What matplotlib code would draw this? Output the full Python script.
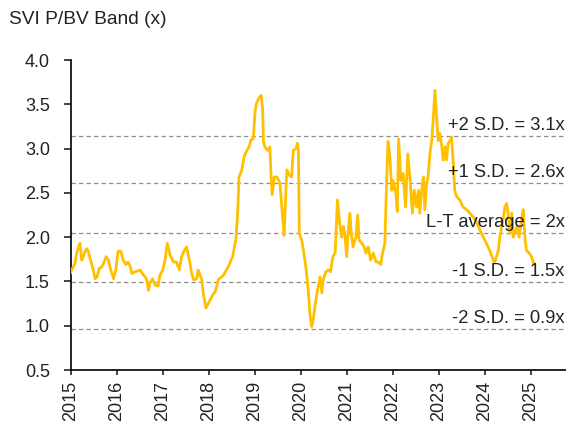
import numpy as np
import matplotlib.pyplot as plt

plt.rcParams['font.family'] = ['Liberation Sans', 'DejaVu Sans']

# SVI P/BV, fractional year vs multiple (x)
years = [2015.00, 2015.02, 2015.09, 2015.13, 2015.17, 2015.20, 2015.24, 2015.27, 2015.31, 2015.35,
         2015.38, 2015.42, 2015.49, 2015.53, 2015.57, 2015.62, 2015.67, 2015.71, 2015.77, 2015.82,
         2015.85, 2015.93, 2015.98, 2016.03, 2016.09, 2016.14, 2016.20, 2016.25, 2016.29, 2016.33,
         2016.40, 2016.47, 2016.51, 2016.57, 2016.62, 2016.65, 2016.69, 2016.72, 2016.78, 2016.83,
         2016.90, 2016.94, 2017.00, 2017.05, 2017.10, 2017.16, 2017.23, 2017.30, 2017.36, 2017.41,
         2017.46, 2017.52, 2017.58, 2017.63, 2017.67, 2017.74, 2017.77, 2017.85, 2017.88, 2017.94,
         2018.01, 2018.09, 2018.14, 2018.21, 2018.32, 2018.43, 2018.52, 2018.59, 2018.63, 2018.66,
         2018.72, 2018.77, 2018.83, 2018.88, 2018.92, 2018.97, 2019.01, 2019.04, 2019.09, 2019.14,
         2019.17, 2019.19, 2019.22, 2019.28, 2019.33, 2019.35, 2019.38, 2019.43, 2019.48, 2019.55,
         2019.60, 2019.64, 2019.67, 2019.70, 2019.75, 2019.80, 2019.84, 2019.90, 2019.93, 2019.95,
         2019.97, 2020.02, 2020.07, 2020.12, 2020.17, 2020.20, 2020.24, 2020.27, 2020.33, 2020.38,
         2020.42, 2020.46, 2020.49, 2020.55, 2020.60, 2020.65, 2020.70, 2020.75, 2020.80, 2020.85,
         2020.89, 2020.93, 2020.96, 2021.00, 2021.03, 2021.07, 2021.10, 2021.14, 2021.20, 2021.24,
         2021.27, 2021.33, 2021.38, 2021.42, 2021.47, 2021.52, 2021.58, 2021.64, 2021.69, 2021.74,
         2021.78, 2021.83, 2021.87, 2021.90, 2021.94, 2021.98, 2022.01, 2022.07, 2022.10, 2022.13,
         2022.18, 2022.23, 2022.28, 2022.33, 2022.38, 2022.43, 2022.47, 2022.52, 2022.56, 2022.59,
         2022.63, 2022.67, 2022.70, 2022.74, 2022.77, 2022.81, 2022.85, 2022.88, 2022.92, 2022.96,
         2022.99, 2023.03, 2023.07, 2023.10, 2023.14, 2023.17, 2023.21, 2023.25, 2023.28, 2023.32,
         2023.35, 2023.39, 2023.46, 2023.53, 2023.61, 2023.68, 2023.75, 2023.83, 2023.90, 2023.97,
         2024.04, 2024.11, 2024.19, 2024.22, 2024.30, 2024.33, 2024.40, 2024.44, 2024.48, 2024.51,
         2024.55, 2024.59, 2024.62, 2024.70, 2024.75, 2024.80, 2024.84, 2024.88, 2024.91, 2024.97,
         2025.02, 2025.07]
pbv = [1.60, 1.63, 1.70, 1.82, 1.89, 1.93, 1.74, 1.78, 1.84, 1.87,
       1.84, 1.76, 1.63, 1.53, 1.55, 1.65, 1.66, 1.70, 1.78, 1.74,
       1.67, 1.53, 1.63, 1.84, 1.84, 1.74, 1.69, 1.72, 1.67, 1.59,
       1.61, 1.62, 1.63, 1.58, 1.55, 1.52, 1.40, 1.48, 1.53, 1.46,
       1.45, 1.57, 1.63, 1.74, 1.93, 1.80, 1.72, 1.72, 1.63, 1.78,
       1.84, 1.89, 1.74, 1.59, 1.52, 1.53, 1.63, 1.52, 1.37, 1.20,
       1.27, 1.35, 1.38, 1.52, 1.57, 1.67, 1.78, 1.97, 2.27, 2.68,
       2.76, 2.91, 2.98, 3.02, 3.10, 3.11, 3.43, 3.51, 3.57, 3.60,
       3.47, 3.08, 3.02, 2.98, 3.02, 2.76, 2.48, 2.68, 2.68, 2.61,
       2.27, 2.02, 2.42, 2.76, 2.70, 2.68, 2.98, 3.00, 3.06, 2.98,
       2.04, 1.97, 1.82, 1.63, 1.37, 1.14, 0.99, 1.06, 1.29, 1.44,
       1.55, 1.37, 1.52, 1.61, 1.63, 1.61, 1.78, 1.82, 2.42, 2.15,
       2.00, 2.12, 2.04, 1.78, 2.04, 2.27, 2.04, 1.89, 2.00, 2.25,
       1.97, 1.93, 1.89, 1.82, 1.89, 1.74, 1.82, 1.72, 1.72, 1.69,
       1.82, 1.93, 2.64, 3.08, 2.91, 2.53, 2.64, 2.49, 2.29, 3.11,
       2.64, 2.72, 2.34, 2.94, 2.64, 2.27, 2.53, 2.34, 2.53, 2.27,
       2.53, 2.68, 2.31, 2.61, 2.68, 2.94, 3.09, 3.32, 3.66, 3.32,
       3.09, 3.17, 3.02, 2.87, 3.02, 2.87, 3.06, 3.09, 3.13, 2.83,
       2.53, 2.46, 2.42, 2.34, 2.31, 2.27, 2.23, 2.16, 2.08, 2.00,
       1.93, 1.85, 1.74, 1.72, 1.85, 2.00, 2.19, 2.34, 2.38, 2.27,
       2.04, 2.27, 2.00, 2.12, 2.00, 2.19, 2.31, 1.97, 1.85, 1.82,
       1.78, 1.70]

band_levels = [3.14, 2.61, 2.05, 1.49, 0.96]
band_labels = ['+2 S.D. = 3.1x', '+1 S.D. = 2.6x', 'L-T average = 2x',
               '-1 S.D. = 1.5x', '-2 S.D. = 0.9x']
year_ticks = list(range(2015, 2026))

fig = plt.figure(figsize=(5.66, 4.25), dpi=100)
ax = fig.add_axes([0.125, 0.1294, 0.875, 0.7294])

txt = '#222222'
for lev, lab in zip(band_levels, band_labels):
    ax.axhline(lev, color='#8c8c8c', linestyle=(0, (3.5, 2.5)), linewidth=0.9, zorder=1)
    ax.annotate(lab, xy=(1.0, lev), xycoords=('axes fraction', 'data'),
                xytext=(-1, 7.5), textcoords='offset points',
                ha='right', va='center', fontsize=13.2, color=txt, zorder=4)

ax.plot(years, pbv, color='#FFC000', linewidth=2.0, zorder=3)

ax.set_xlim(2015, 2025.77)
ax.set_ylim(0.5, 4.0)
ax.set_xticks(year_ticks)
ax.set_xticklabels([str(y) for y in year_ticks], rotation=90)
ax.set_yticks(np.arange(0.5, 4.01, 0.5))
ax.set_yticklabels(['%.1f' % v for v in np.arange(0.5, 4.01, 0.5)])
ax.tick_params(axis='both', labelsize=13, colors=txt, width=1.2, direction='out')
ax.tick_params(axis='x', length=3.6, pad=4.3)
ax.tick_params(axis='y', length=5, pad=10)
for s in ['top', 'right']:
    ax.spines[s].set_visible(False)
for s in ['left', 'bottom']:
    ax.spines[s].set_linewidth(1.2)
    ax.spines[s].set_color('black')

fig.text(0.016, 0.955, 'SVI P/BV Band (x)', fontsize=13.8, color=txt, ha='left', va='center')

fig.savefig('out.png', dpi=100)
